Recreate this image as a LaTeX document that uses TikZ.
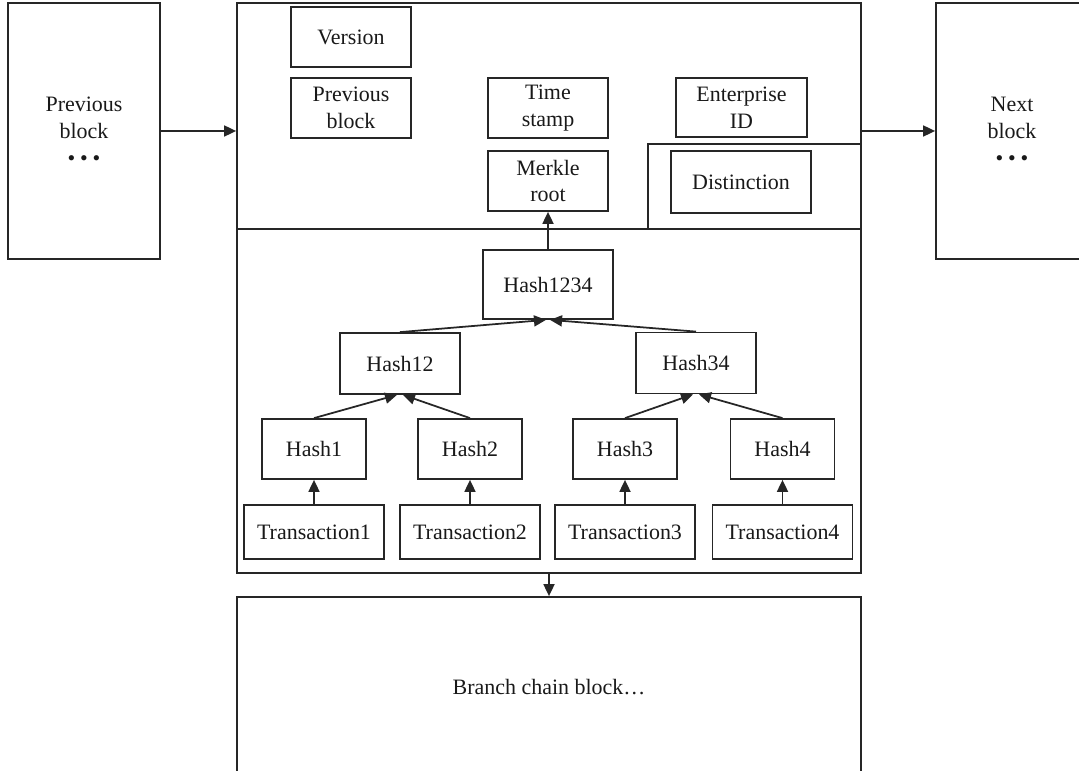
\documentclass[tikz,border=0pt]{standalone}
\usepackage{fontspec}
\setmainfont{Liberation Serif}
\usepackage{tikz}
\usetikzlibrary{arrows.meta}

\tikzset{
  blk/.style={draw=black!85, line width=1pt, rectangle, inner sep=0pt, align=center,
    text=black!90, font=\fontsize{12.5}{15.3}\selectfont},
  link/.style={draw=black!85, line width=1pt, -{Triangle[length=2.4mm,width=2.2mm]}},
}
\newcommand{\threedots}{\textbullet\hspace{0.22em}\textbullet\hspace{0.22em}\textbullet}

\begin{document}
\begin{tikzpicture}
\useasboundingbox (0,0) rectangle (21.58,-15.42);

\node[blk, minimum width=3.04cm, minimum height=5.12cm] (prev) at (1.68,-2.62) {Previous\\block\\\threedots};
\node[blk, minimum width=3.04cm, minimum height=5.12cm] (next) at (20.24,-2.62) {Next\\block\\\threedots};

\node[blk, minimum width=12.48cm, minimum height=4.52cm] (header) at (10.98,-2.32) {};
\node[blk, minimum width=12.48cm, minimum height=6.88cm] (body) at (10.98,-8.02) {};
\node[blk, minimum width=12.48cm, minimum height=3.6cm] (branch) at (10.98,-13.74) {Branch chain block\dots};

\node[blk, minimum width=4.26cm, minimum height=1.7cm] (distarea) at (15.09,-3.73) {};

\node[blk, minimum width=2.4cm, minimum height=1.2cm] (version) at (7.02,-0.74) {Version};
\node[blk, minimum width=2.4cm, minimum height=1.2cm] (prevhash) at (7.02,-2.16) {Previous\\block};
\node[blk, minimum width=2.4cm, minimum height=1.2cm] (timestamp) at (10.96,-2.16) {Time\\stamp};
\node[blk, minimum width=2.4cm, minimum height=1.2cm] (merkle) at (10.96,-3.62) {Merkle\\root};
\node[blk, minimum width=2.62cm, minimum height=1.18cm] (entid) at (14.83,-2.15) {Enterprise\\ID};
\node[blk, minimum width=2.8cm, minimum height=1.24cm] (distinct) at (14.82,-3.64) {Distinction};

\node[blk, minimum width=2.6cm, minimum height=1.38cm] (h1234) at (10.96,-5.69) {Hash1234};
\node[blk, minimum width=2.4cm, minimum height=1.22cm] (h12) at (8.0,-7.27) {Hash12};
\node[blk, minimum width=2.4cm, minimum height=1.22cm] (h34) at (13.92,-7.26) {Hash34};

\foreach \i/\x in {1/6.28,2/9.4,3/12.5,4/15.65} {
  \node[blk, minimum width=2.08cm, minimum height=1.2cm] (h\i) at (\x,-8.98) {Hash\i};
  \node[blk, minimum width=2.8cm, minimum height=1.08cm] (tx\i) at (\x,-10.64) {Transaction\i};
  \draw[link] (tx\i) -- (h\i);
}

\draw[link] (h1.north) -- ([xshift=-0.06cm]h12.south);
\draw[link] (h2.north) -- ([xshift=0.06cm]h12.south);
\draw[link] (h3.north) -- ([xshift=-0.06cm]h34.south);
\draw[link] (h4.north) -- ([xshift=0.06cm]h34.south);
\draw[link] (h12.north) -- ([xshift=-0.04cm]h1234.south);
\draw[link] (h34.north) -- ([xshift=0.04cm]h1234.south);
\draw[link] (h1234.north) -- (merkle.south);

\draw[link] (prev.east) -- (prev.east -| header.west);
\draw[link] (next.west -| header.east) -- (next.west);
\draw[link] (body.south) -- (branch.north);
\end{tikzpicture}
\end{document}
